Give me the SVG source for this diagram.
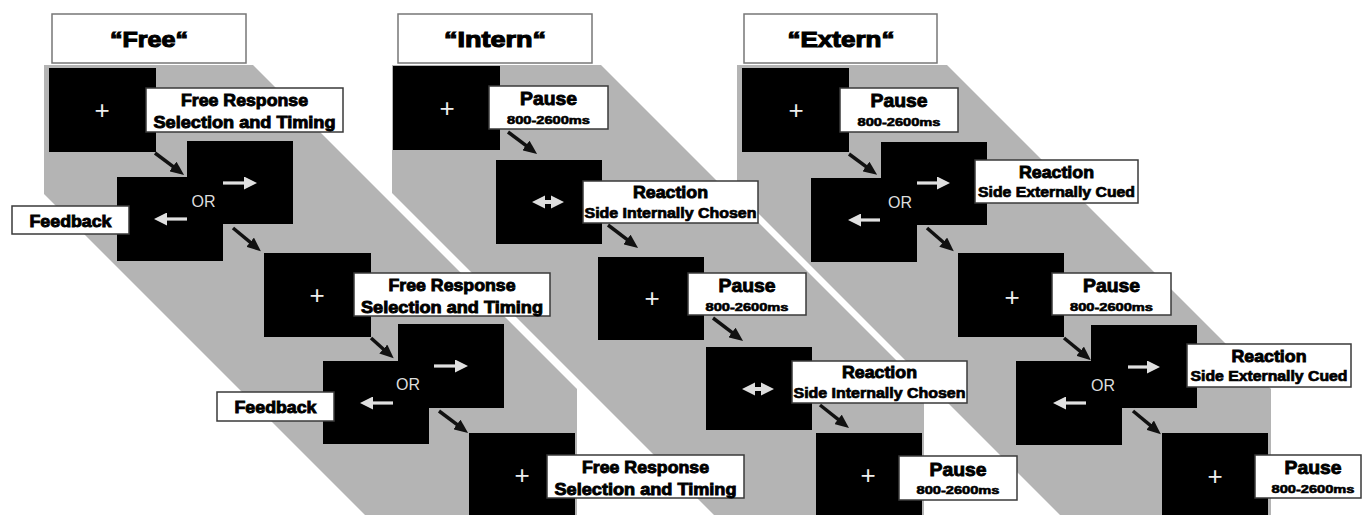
<svg xmlns="http://www.w3.org/2000/svg" width="1362" height="515" viewBox="0 0 1362 515">
<style>
.band{fill:#b4b4b4}
.scr{fill:#000}
.lbl{fill:#fff;stroke:#3a3a3a;stroke-width:1.5}
.ttl{fill:#fff;stroke:#777;stroke-width:1.5}
.bt{font-family:"Liberation Sans",Arial,sans-serif;font-weight:bold;fill:#000;stroke:#000;stroke-width:0.9;text-anchor:middle}
.t1{font-size:22px;stroke-width:1.1}
.fr{font-size:16.5px}
.pa{font-size:19px}
.ms{font-size:11.5px;stroke-width:0.6}
.re{font-size:17px}
.si{font-size:14px;stroke-width:0.7}
.plus{font-family:"Liberation Sans",Arial,sans-serif;font-size:26px;fill:#eee;text-anchor:middle}
.or{font-family:"Liberation Sans",Arial,sans-serif;font-size:16px;fill:#ddd;text-anchor:middle}
.conn{stroke:#111;stroke-width:3.5;fill:none;marker-end:url(#ah)}
.wa{stroke:#e0e0e0;stroke-width:3.2;fill:none;marker-end:url(#wh)}
.dbl{fill:#ddd}
</style>
<defs>
<marker id="ah" viewBox="0 0 14 12" refX="7" refY="6" markerWidth="14" markerHeight="12" markerUnits="userSpaceOnUse" orient="auto"><path d="M0,0 L14,6 L0,12 z" fill="#111"/></marker>
<marker id="wh" viewBox="0 0 13 13" refX="6.5" refY="6.5" markerWidth="13" markerHeight="13" markerUnits="userSpaceOnUse" orient="auto"><path d="M0,0 L13,6.5 L0,13 z" fill="#e0e0e0"/></marker>
</defs>
<rect width="1362" height="515" fill="#fff"/>
<g id="bands">
<polygon class="band" points="44,65 253,65 577,389 577,515 365,515 44,194"/>
<polygon class="band" points="392,65 601,65 924,388 924,515 714,515 392,193"/>
<polygon class="band" points="737,65 947,65 1271,389 1271,515 1060,515 737,192"/>
</g>
<!-- Panel titles -->
<g id="title-free"><rect class="ttl" x="52" y="14" width="194" height="49"/><text class="bt t1" x="149" y="47" textLength="78" lengthAdjust="spacingAndGlyphs">&#8220;Free&#8220;</text></g>
<g id="title-intern"><rect class="ttl" x="398" y="14" width="194" height="49"/><text class="bt t1" x="495" y="47" textLength="102" lengthAdjust="spacingAndGlyphs">&#8220;Intern&#8220;</text></g>
<g id="title-extern"><rect class="ttl" x="744" y="14" width="193" height="49"/><text class="bt t1" x="841" y="47" textLength="107" lengthAdjust="spacingAndGlyphs">&#8220;Extern&#8220;</text></g>
<!-- Free panel screens -->
<g id="free-fix1"><rect class="scr" x="49" y="68" width="107" height="84"/><text class="plus" x="102" y="119">+</text></g>
<g id="free-or1"><rect class="scr" x="187" y="141" width="106" height="83"/><rect class="scr" x="117" y="177" width="106" height="84"/><text class="or" x="203.5" y="207">OR</text></g>
<g id="free-fix2"><rect class="scr" x="264" y="253" width="107" height="84"/><text class="plus" x="317" y="304">+</text></g>
<g id="free-or2"><rect class="scr" x="398" y="324" width="106" height="84"/><rect class="scr" x="323" y="361" width="106" height="83"/><text class="or" x="408" y="390">OR</text></g>
<g id="free-fix3"><rect class="scr" x="469" y="433" width="106" height="84"/><text class="plus" x="522" y="484">+</text></g>
<!-- Intern panel screens -->
<g id="intern-fix1"><rect class="scr" x="393" y="66" width="107" height="84"/><text class="plus" x="447" y="117">+</text></g>
<g id="intern-react1"><rect class="scr" x="496" y="160" width="106" height="84"/><polygon class="dbl" points="532,202 545,195.5 545,200 551,200 551,195.5 564,202 551,208.5 551,204 545,204 545,208.5"/></g>
<g id="intern-fix2"><rect class="scr" x="598" y="257" width="106" height="83"/><text class="plus" x="652" y="307">+</text></g>
<g id="intern-react2"><rect class="scr" x="706" y="347" width="106" height="83"/><polygon class="dbl" points="742,389 755,382.5 755,387 761,387 761,382.5 774,389 761,395.5 761,391 755,391 755,395.5"/></g>
<g id="intern-fix3"><rect class="scr" x="816" y="433" width="106" height="84"/><text class="plus" x="868" y="484">+</text></g>
<!-- Extern panel screens -->
<g id="extern-fix1"><rect class="scr" x="742" y="68" width="107" height="84"/><text class="plus" x="796" y="119">+</text></g>
<g id="extern-or1"><rect class="scr" x="881" y="142" width="106" height="83"/><rect class="scr" x="811" y="178" width="106" height="84"/><text class="or" x="900" y="208">OR</text></g>
<g id="extern-fix2"><rect class="scr" x="958" y="253" width="106" height="84"/><text class="plus" x="1012" y="306">+</text></g>
<g id="extern-or2"><rect class="scr" x="1091" y="325" width="106" height="83"/><rect class="scr" x="1016" y="361" width="106" height="84"/><text class="or" x="1103" y="391">OR</text></g>
<g id="extern-fix3"><rect class="scr" x="1162" y="433" width="106" height="84"/><text class="plus" x="1215" y="485">+</text></g>
<!-- Connectors -->
<g id="connectors">
<line class="conn" x1="155" y1="153" x2="178.5" y2="170.7"/>
<line class="conn" x1="233" y1="228" x2="255.5" y2="246.7"/>
<line class="conn" x1="371" y1="338" x2="388.5" y2="353.7"/>
<line class="conn" x1="439" y1="411" x2="462.5" y2="428.7"/>
<line class="conn" x1="508" y1="132" x2="531.5" y2="149.7"/>
<line class="conn" x1="608" y1="225" x2="632.5" y2="243.7"/>
<line class="conn" x1="713" y1="318" x2="737.5" y2="336.7"/>
<line class="conn" x1="820" y1="405" x2="843.5" y2="423.7"/>
<line class="conn" x1="849" y1="154" x2="871.5" y2="170.7"/>
<line class="conn" x1="927" y1="228" x2="948.5" y2="246.7"/>
<line class="conn" x1="1064" y1="338" x2="1085.5" y2="355.7"/>
<line class="conn" x1="1133" y1="411" x2="1155.5" y2="429.7"/>
<line class="wa" x1="223" y1="183" x2="250.5" y2="183"/>
<line class="wa" x1="187" y1="219" x2="160.5" y2="219"/>
<line class="wa" x1="434" y1="366" x2="461.5" y2="366"/>
<line class="wa" x1="393" y1="403" x2="366.5" y2="403"/>
<line class="wa" x1="917" y1="183" x2="943.5" y2="183"/>
<line class="wa" x1="880" y1="220" x2="854.5" y2="220"/>
<line class="wa" x1="1128" y1="367" x2="1153.5" y2="367"/>
<line class="wa" x1="1086" y1="403" x2="1059.5" y2="403"/>
</g>
<!-- Labels -->
<g id="free-label1"><rect class="lbl" x="146" y="88" width="197" height="44"/><text class="bt fr" x="244.5" y="106" textLength="127" lengthAdjust="spacingAndGlyphs">Free Response</text><text class="bt fr" x="244.5" y="128" textLength="182" lengthAdjust="spacingAndGlyphs">Selection and Timing</text></g>
<g id="free-feedback1"><rect class="lbl" x="12" y="206" width="117" height="28"/><text class="bt fr" x="70.5" y="227" textLength="82" lengthAdjust="spacingAndGlyphs">Feedback</text></g>
<g id="free-label2"><rect class="lbl" x="354" y="273" width="196" height="43"/><text class="bt fr" x="452" y="291" textLength="127" lengthAdjust="spacingAndGlyphs">Free Response</text><text class="bt fr" x="452" y="313" textLength="182" lengthAdjust="spacingAndGlyphs">Selection and Timing</text></g>
<g id="free-feedback2"><rect class="lbl" x="217" y="392" width="117" height="29"/><text class="bt fr" x="275.5" y="413" textLength="82" lengthAdjust="spacingAndGlyphs">Feedback</text></g>
<g id="free-label3"><rect class="lbl" x="547" y="455" width="197" height="43"/><text class="bt fr" x="645.5" y="473" textLength="127" lengthAdjust="spacingAndGlyphs">Free Response</text><text class="bt fr" x="645.5" y="495" textLength="182" lengthAdjust="spacingAndGlyphs">Selection and Timing</text></g>
<g id="intern-pause1"><rect class="lbl" x="489" y="86" width="119" height="43"/><text class="bt pa" x="548.5" y="105" textLength="57" lengthAdjust="spacingAndGlyphs">Pause</text><text class="bt ms" x="548.5" y="124" textLength="83" lengthAdjust="spacingAndGlyphs">800-2600ms</text></g>
<g id="intern-reaction1"><rect class="lbl" x="583" y="181" width="175" height="42"/><text class="bt re" x="670.5" y="198" textLength="75" lengthAdjust="spacingAndGlyphs">Reaction</text><text class="bt si" x="670.5" y="218" textLength="172" lengthAdjust="spacingAndGlyphs">Side Internally Chosen</text></g>
<g id="intern-pause2"><rect class="lbl" x="688" y="273" width="118" height="42"/><text class="bt pa" x="747" y="292" textLength="57" lengthAdjust="spacingAndGlyphs">Pause</text><text class="bt ms" x="747" y="311" textLength="83" lengthAdjust="spacingAndGlyphs">800-2600ms</text></g>
<g id="intern-reaction2"><rect class="lbl" x="792" y="361" width="175" height="42"/><text class="bt re" x="879.5" y="378" textLength="75" lengthAdjust="spacingAndGlyphs">Reaction</text><text class="bt si" x="879.5" y="398" textLength="172" lengthAdjust="spacingAndGlyphs">Side Internally Chosen</text></g>
<g id="intern-pause3"><rect class="lbl" x="899" y="456" width="118" height="44"/><text class="bt pa" x="958" y="476" textLength="57" lengthAdjust="spacingAndGlyphs">Pause</text><text class="bt ms" x="958" y="494" textLength="83" lengthAdjust="spacingAndGlyphs">800-2600ms</text></g>
<g id="extern-pause1"><rect class="lbl" x="840" y="88" width="118" height="44"/><text class="bt pa" x="899" y="107" textLength="57" lengthAdjust="spacingAndGlyphs">Pause</text><text class="bt ms" x="899" y="126" textLength="83" lengthAdjust="spacingAndGlyphs">800-2600ms</text></g>
<g id="extern-reaction1"><rect class="lbl" x="975" y="160" width="163" height="43"/><text class="bt re" x="1056.5" y="178" textLength="75" lengthAdjust="spacingAndGlyphs">Reaction</text><text class="bt si" x="1056.5" y="197" textLength="157" lengthAdjust="spacingAndGlyphs">Side Externally Cued</text></g>
<g id="extern-pause2"><rect class="lbl" x="1052" y="273" width="119" height="42"/><text class="bt pa" x="1111.5" y="292" textLength="57" lengthAdjust="spacingAndGlyphs">Pause</text><text class="bt ms" x="1111.5" y="311" textLength="83" lengthAdjust="spacingAndGlyphs">800-2600ms</text></g>
<g id="extern-reaction2"><rect class="lbl" x="1187" y="344" width="164" height="43"/><text class="bt re" x="1269" y="362" textLength="75" lengthAdjust="spacingAndGlyphs">Reaction</text><text class="bt si" x="1269" y="381" textLength="157" lengthAdjust="spacingAndGlyphs">Side Externally Cued</text></g>
<g id="extern-pause3"><rect class="lbl" x="1255" y="455" width="106" height="43"/><text class="bt pa" x="1313" y="474" textLength="57" lengthAdjust="spacingAndGlyphs">Pause</text><text class="bt ms" x="1313" y="493" textLength="83" lengthAdjust="spacingAndGlyphs">800-2600ms</text></g>
</svg>
